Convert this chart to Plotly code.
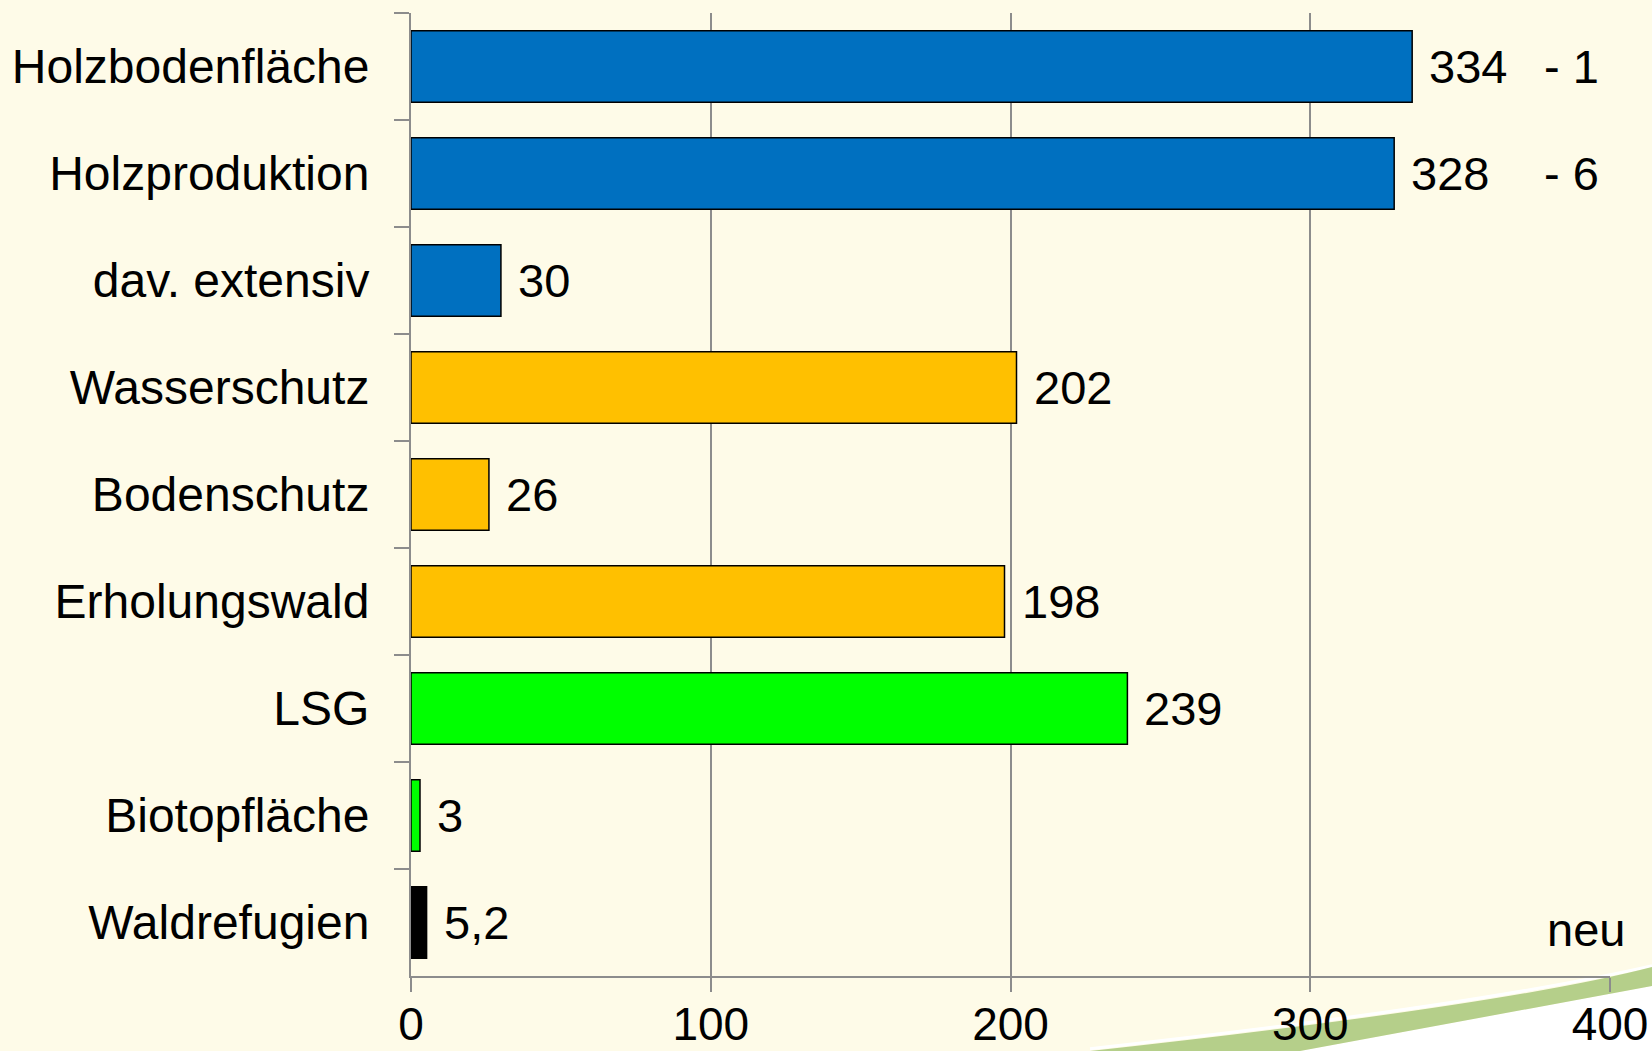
import plotly.graph_objects as go

categories = ["Holzbodenfläche", "Holzproduktion", "dav. extensiv", "Wasserschutz",
              "Bodenschutz", "Erholungswald", "LSG", "Biotopfläche", "Waldrefugien"]
values = [334, 328, 30, 202, 26, 198, 239, 3, 5.2]
colors = ["#0070C0", "#0070C0", "#0070C0", "#FFC000", "#FFC000", "#FFC000",
          "#00FF00", "#00FF00", "#000000"]
changes = ["- 1", "- 6", "", "", "", "", "", "", "neu"]
x_ticks = [0, 100, 200, 300, 400]

BG = "#FEFBE8"
GRID = "#8C8C8C"
FONT = "Liberation Sans, Arial, sans-serif"

fig = go.Figure()
fig.add_trace(go.Bar(
    y=categories, x=values, orientation="h",
    marker=dict(color=colors, line=dict(color="black", width=1.5)),
    width=0.67, hoverinfo="skip",
))

def fmt(v):
    return ("%g" % v).replace(".", ",")

annotations = []
for c, v in zip(categories, values):
    annotations.append(dict(x=v, y=c, xref="x", yref="y", text=fmt(v),
                            showarrow=False, xanchor="left", xshift=15,
                            font=dict(size=47, color="black", family=FONT)))
for c, t in zip(categories, changes):
    if t:
        annotations.append(dict(x=377.3, y=c, xref="x", yref="y", text=t,
                                showarrow=False, xanchor="left",
                                xshift=(3 if t == "neu" else 0),
                                yshift=(-7 if t == "neu" else 0),
                                font=dict(size=47, color="black", family=FONT)))

# decorative green swoosh (bottom right), paper coordinates
swoosh = ("M 0.5663,-0.0779 Q 0.9116,-0.0306 1.035,0.00935 "
          "L 1.06,0.0150 L 1.06,-0.0120 L 1.035,-0.0104 "
          "L 0.7414,-0.0779 L 0.7414,-0.10 L 0.5663,-0.10 Z")
highlight = "M 0.5663,-0.0755 Q 0.9116,-0.0282 1.06,0.0180"
under = ("M 0.7414,-0.0779 L 1.035,-0.0104 L 1.06,-0.0120 "
         "L 1.06,-0.10 L 0.7414,-0.10 Z")

fig.update_layout(
    width=1652, height=1051,
    margin=dict(l=411, r=42, t=13, b=75, pad=0),
    paper_bgcolor=BG, plot_bgcolor="rgba(0,0,0,0)",
    font=dict(family=FONT, size=48, color="black"),
    showlegend=False,
    bargap=0.33,
    annotations=annotations,
    shapes=[
        dict(type="path", path=under, xref="paper", yref="paper",
             fillcolor="white", line=dict(width=0), layer="below"),
        dict(type="path", path=highlight, xref="paper", yref="paper",
             line=dict(color="white", width=3), layer="below"),
        dict(type="path", path=swoosh, xref="paper", yref="paper",
             fillcolor="#B5CF8A", line=dict(width=0), layer="below"),
    ],
    xaxis=dict(range=[0, 400], tickvals=x_ticks, showgrid=True, gridcolor=GRID,
               gridwidth=2, zeroline=False, showline=True, linecolor=GRID,
               linewidth=2, ticks="outside", ticklen=14, tickcolor=GRID,
               tickwidth=2, tickfont=dict(size=46), ticklabelstandoff=-7,
               automargin=False, fixedrange=True),
    yaxis=dict(categoryorder="array", categoryarray=categories,
               autorange="reversed", showline=True, linecolor=GRID, linewidth=2,
               ticks="outside", tickson="boundaries", ticklen=15, tickcolor=GRID,
               tickwidth=2, showgrid=False, ticklabelstandoff=30,
               tickfont=dict(size=48), automargin=False, fixedrange=True),
)

fig.write_html(
    "out.html",
    config={"displayModeBar": False},
    post_script="document.body.style.margin='0';"
                "document.body.style.background='#FEFBE8';",
)
